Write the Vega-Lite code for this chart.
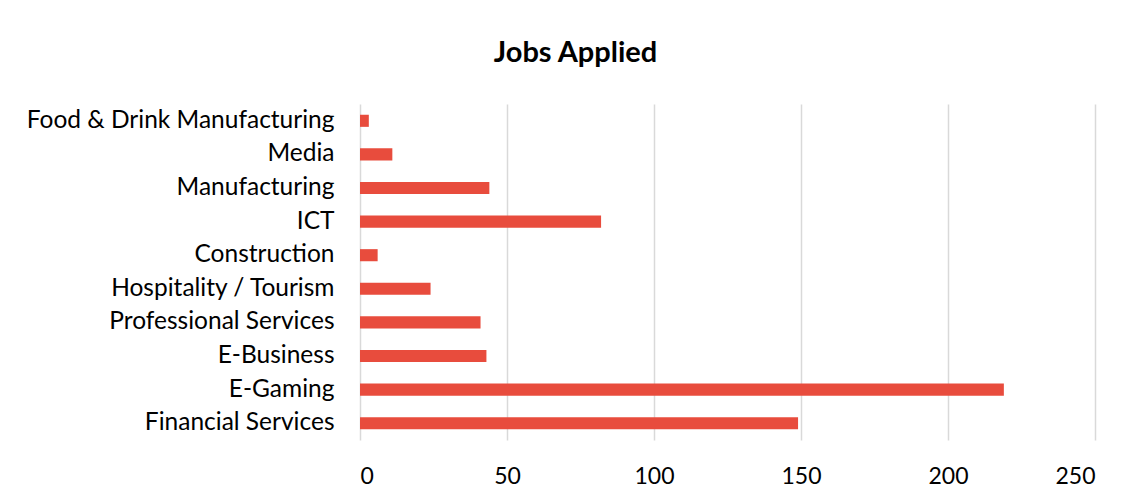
{
  "$schema": "https://vega.github.io/schema/vega-lite/v6.json",
  "width": 735,
  "height": 336,
  "autosize": {"type": "none"},
  "padding": {"left": 360, "top": 104, "right": 39, "bottom": 62},
  "background": "white",
  "title": {
    "text": "Jobs Applied",
    "font": "Lato",
    "fontSize": 29,
    "fontWeight": "bold",
    "color": "#000000",
    "anchor": "middle",
    "frame": "group",
    "dx": -152,
    "offset": 36
  },
  "data": {
    "values": [
      {"sector": "Food & Drink Manufacturing", "jobs": 3},
      {"sector": "Media ", "jobs": 11},
      {"sector": "Manufacturing", "jobs": 44},
      {"sector": "ICT ", "jobs": 82},
      {"sector": "Construction", "jobs": 6},
      {"sector": "Hospitality / Tourism", "jobs": 24},
      {"sector": "Professional Services", "jobs": 41},
      {"sector": "E-Business", "jobs": 43},
      {"sector": "E-Gaming", "jobs": 219},
      {"sector": "Financial Services", "jobs": 149}
    ]
  },
  "mark": {"type": "bar", "color": "#E84C3D"},
  "encoding": {
    "y": {
      "field": "sector",
      "type": "nominal",
      "sort": null,
      "scale": {"paddingInner": 0.64, "paddingOuter": 0.32},
      "axis": {
        "title": null,
        "domain": false,
        "ticks": false,
        "labelPadding": 26,
        "labelFont": "Lato",
        "labelFontSize": 24.5,
        "labelColor": "#000000",
        "labelLimit": 400
      }
    },
    "x": {
      "field": "jobs",
      "type": "quantitative",
      "scale": {"domain": [0, 250], "nice": false},
      "axis": {
        "title": null,
        "values": [0, 50, 100, 150, 200, 250],
        "domain": false,
        "ticks": false,
        "grid": true,
        "gridColor": "#d9d9d9",
        "gridWidth": 1.5,
        "labelPadding": 25,
        "labelFont": "Lato",
        "labelFontSize": 23,
        "labelColor": "#000000"
      }
    }
  },
  "config": {"view": {"stroke": null}}
}
